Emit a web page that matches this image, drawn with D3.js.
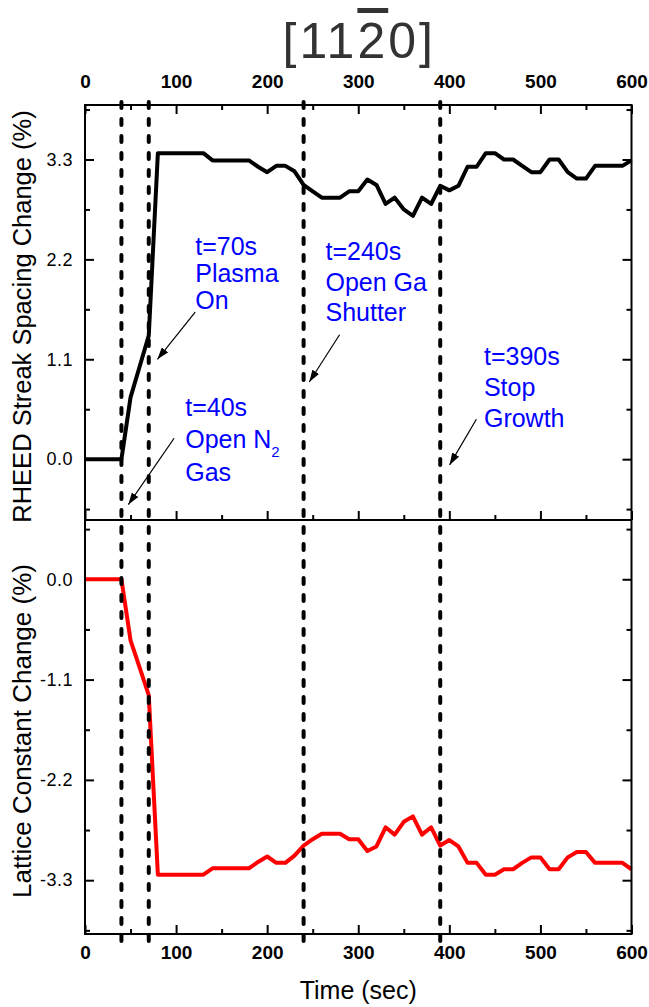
<!DOCTYPE html>
<html>
<head>
<meta charset="utf-8">
<script src="https://cdn.jsdelivr.net/npm/d3@7"></script>
<style>
  body { margin: 0; background: #fff; }
  svg { display: block; font-family: "Liberation Sans", Arial, sans-serif; }
</style>
</head>
<body>
<svg id="chart" width="649" height="1007"></svg>
<script>
// Sampling times (s)
const seconds = [0, 10, 20, 30, 40, 50, 60, 70, 80, 90, 100, 110, 120, 130, 140, 150, 160, 170, 180, 190,
  200, 210, 220, 230, 240, 250, 260, 270, 280, 290, 300, 310, 320, 330, 340, 350, 360, 370, 380, 390,
  400, 410, 420, 430, 440, 450, 460, 470, 480, 490, 500, 510, 520, 530, 540, 550, 560, 570, 580, 590, 600];

// RHEED streak spacing change (%)
const rheedSpacing = [0, 0, 0, 0, 0, 0.68, 1.02, 1.36, 3.37, 3.37, 3.37, 3.37, 3.37, 3.37, 3.29, 3.29, 3.29, 3.29, 3.29, 3.22,
  3.16, 3.23, 3.23, 3.17, 3.02, 2.95, 2.88, 2.88, 2.88, 2.95, 2.95, 3.08, 3.02, 2.81, 2.88, 2.75, 2.68, 2.88, 2.81, 3.01,
  2.96, 3.01, 3.22, 3.22, 3.37, 3.37, 3.30, 3.30, 3.23, 3.16, 3.16, 3.30, 3.30, 3.16, 3.09, 3.09, 3.23, 3.23, 3.23, 3.23, 3.29];

// Lattice constant change (%)
const latticeChange = [0, 0, 0, 0, 0, -0.67, -0.97, -1.27, -3.24, -3.24, -3.24, -3.24, -3.24, -3.24, -3.17, -3.17, -3.17, -3.17, -3.17, -3.10,
  -3.04, -3.11, -3.11, -3.03, -2.92, -2.85, -2.79, -2.79, -2.79, -2.85, -2.85, -2.98, -2.93, -2.72, -2.80, -2.66, -2.60, -2.80, -2.72, -2.92,
  -2.86, -2.93, -3.11, -3.11, -3.24, -3.24, -3.18, -3.18, -3.11, -3.05, -3.05, -3.18, -3.18, -3.05, -2.99, -2.99, -3.11, -3.11, -3.11, -3.11, -3.18];

// Process events (s)
const eventTimes = [40, 70, 240, 390];
const eventNotes = [
  ["t=40s", "Open N", "Gas"],
  ["t=70s", "Plasma", "On"],
  ["t=240s", "Open Ga", "Shutter"],
  ["t=390s", "Stop", "Growth"]
];

// Tick values
const timeTicks = [0, 100, 200, 300, 400, 500, 600];
const timeMinorTicks = [50, 150, 250, 350, 450, 550];
const rheedTicks = [0, 1.1, 2.2, 3.3];
const rheedMinorTicks = [-0.55, 0.55, 1.65, 2.75, 3.85];
const latticeTicks = [0, -1.1, -2.2, -3.3];
const latticeMinorTicks = [0.55, -0.55, -1.65, -2.75, -3.85];

const svg = d3.select("#chart");

const x = d3.scaleLinear().domain([0, 600]).range([85, 631.5]);
const yTop = d3.scaleLinear().domain([-0.67, 3.9]).range([520, 105]);
const yBot = d3.scaleLinear().domain([-3.89, 0.65]).range([934, 520]);

const fmt = v => (Math.abs(v) < 1e-9 ? 0 : v).toFixed(1);
const xL = x.range()[0], xR = x.range()[1];
const yT = yTop.range()[1], yMid = yTop.range()[0], yB = yBot.range()[0];

function styleAxis(g, labelStyle) {
  g.select(".domain").remove();
  g.selectAll(".tick line").attr("stroke", "#000").attr("stroke-width", 2);
  g.selectAll(".tick text").attr("fill", "#000").style("font-family", "'Liberation Sans', Arial, sans-serif");
  if (labelStyle) labelStyle(g.selectAll(".tick text"));
}

// Time axis on top of the upper panel (labelled)
svg.append("g").attr("transform", `translate(0,${yT})`)
  .call(d3.axisTop(x).tickValues(timeTicks).tickSizeInner(-9).tickSizeOuter(0).tickPadding(17).tickFormat(d3.format("d")))
  .call(g => styleAxis(g, t => t.style("font-size", "19px").style("font-weight", "bold")));
svg.append("g").attr("transform", `translate(0,${yT})`)
  .call(d3.axisTop(x).tickValues(timeMinorTicks).tickSizeInner(-5).tickSizeOuter(0).tickFormat(""))
  .call(g => styleAxis(g));

// Ticks along the shared boundary, pointing into the upper panel
svg.append("g").attr("transform", `translate(0,${yMid})`)
  .call(d3.axisBottom(x).tickValues(timeTicks).tickSizeInner(-9).tickSizeOuter(0).tickFormat(""))
  .call(g => styleAxis(g));
svg.append("g").attr("transform", `translate(0,${yMid})`)
  .call(d3.axisBottom(x).tickValues(timeMinorTicks).tickSizeInner(-5).tickSizeOuter(0).tickFormat(""))
  .call(g => styleAxis(g));

// Bottom time axis (labelled)
svg.append("g").attr("transform", `translate(0,${yB})`)
  .call(d3.axisBottom(x).tickValues(timeTicks).tickSizeInner(-9).tickSizeOuter(0).tickPadding(12).tickFormat(d3.format("d")))
  .call(g => styleAxis(g, t => t.style("font-size", "19px").style("font-weight", "bold")));
svg.append("g").attr("transform", `translate(0,${yB})`)
  .call(d3.axisBottom(x).tickValues(timeMinorTicks).tickSizeInner(-5).tickSizeOuter(0).tickFormat(""))
  .call(g => styleAxis(g));

// Left and right value axes for both panels
[[yTop, rheedTicks, rheedMinorTicks], [yBot, latticeTicks, latticeMinorTicks]].forEach(([y, major, minor]) => {
  svg.append("g").attr("transform", `translate(${xL},0)`)
    .call(d3.axisLeft(y).tickValues(major).tickSizeInner(-9).tickSizeOuter(0).tickPadding(12).tickFormat(fmt))
    .call(g => styleAxis(g, t => t.style("font-size", "18px").style("letter-spacing", "0.5px")));
  svg.append("g").attr("transform", `translate(${xL},0)`)
    .call(d3.axisLeft(y).tickValues(minor).tickSizeInner(-5).tickSizeOuter(0).tickFormat(""))
    .call(g => styleAxis(g));
  svg.append("g").attr("transform", `translate(${xR},0)`)
    .call(d3.axisRight(y).tickValues(major).tickSizeInner(-9).tickSizeOuter(0).tickFormat(""))
    .call(g => styleAxis(g));
  svg.append("g").attr("transform", `translate(${xR},0)`)
    .call(d3.axisRight(y).tickValues(minor).tickSizeInner(-5).tickSizeOuter(0).tickFormat(""))
    .call(g => styleAxis(g));
});

// Data lines
const rheedLine = d3.line().x((d, i) => x(seconds[i])).y(d => yTop(d));
const latticeLine = d3.line().x((d, i) => x(seconds[i])).y(d => yBot(d));

svg.append("path").datum(rheedSpacing)
  .attr("d", rheedLine).attr("fill", "none").attr("stroke", "#000")
  .attr("stroke-width", 4).attr("stroke-linejoin", "round");
svg.append("path").datum(latticeChange)
  .attr("d", latticeLine).attr("fill", "none").attr("stroke", "#ff0000")
  .attr("stroke-width", 4).attr("stroke-linejoin", "round");

// Frame
svg.append("rect").attr("x", xL).attr("y", yT).attr("width", xR - xL).attr("height", yB - yT)
  .attr("fill", "none").attr("stroke", "#000").attr("stroke-width", 2);
svg.append("line").attr("x1", xL).attr("x2", xR).attr("y1", yMid).attr("y2", yMid)
  .attr("stroke", "#000").attr("stroke-width", 2);

// Event markers
svg.selectAll("line.event").data(eventTimes).join("line").attr("class", "event")
  .attr("x1", d => x(d)).attr("x2", d => x(d))
  .attr("y1", yT - 3).attr("y2", yB + 8)
  .attr("stroke", "#000").attr("stroke-width", 4)
  .attr("stroke-dasharray", "6,11").attr("stroke-linecap", "round");

// Arrow heads
svg.append("defs").append("marker")
  .attr("id", "head").attr("viewBox", "0 0 12 8").attr("refX", 12).attr("refY", 4)
  .attr("markerWidth", 12).attr("markerHeight", 8).attr("markerUnits", "userSpaceOnUse")
  .attr("orient", "auto")
  .append("path").attr("d", "M0,0 L12,4 L0,8 Z").attr("fill", "#000");

// Annotation layout in (time, RHEED %) coordinates: text origin and arrow start/end
const noteLayout = [
  { tx: 110, tv: 0.47, gaps: [32, 33], a: [97.8, 0.23, 47.6, -0.50] },
  { tx: 121, tv: 2.25, gaps: [27, 27], a: [121, 1.62, 79.5, 1.10] },
  { tx: 264, tv: 2.19, gaps: [31, 30], a: [279.5, 1.37, 246.2, 0.85] },
  { tx: 438, tv: 1.04, gaps: [31, 31], a: [429.7, 0.44, 400.3, -0.063] }
];

eventNotes.forEach((lines, k) => {
  const L = noteLayout[k];
  const t = svg.append("text").attr("x", x(L.tx)).attr("y", yTop(L.tv))
    .attr("fill", "#0000ff").style("font-size", "25px");
  let yy = yTop(L.tv);
  lines.forEach((s, j) => {
    if (j > 0) yy += L.gaps[j - 1];
    t.append("tspan").attr("x", x(L.tx)).attr("y", yy).text(s);
    if (k === 0 && j === 1) {
      t.append("tspan").attr("dy", 9).style("font-size", "15px").text("2");
    }
  });
  svg.append("line")
    .attr("x1", x(L.a[0])).attr("y1", yTop(L.a[1]))
    .attr("x2", x(L.a[2])).attr("y2", yTop(L.a[3]))
    .attr("stroke", "#000").attr("stroke-width", 1.2)
    .attr("marker-end", "url(#head)");
});

// Axis titles
svg.append("text").attr("transform", `translate(31,${(yT + yMid) / 2 + 4}) rotate(-90)`)
  .attr("text-anchor", "middle").style("font-size", "25.5px").attr("fill", "#000")
  .text("RHEED Streak Spacing Change (%)");
svg.append("text").attr("transform", `translate(31,${(yMid + yB) / 2 + 4}) rotate(-90)`)
  .attr("text-anchor", "middle").style("font-size", "26px").attr("fill", "#000")
  .text("Lattice Constant Change (%)");
svg.append("text").attr("x", (xL + xR) / 2).attr("y", 999)
  .attr("text-anchor", "middle").style("font-size", "25px").attr("fill", "#000")
  .text("Time (sec)");

// Zone-axis title with barred index
const title = svg.append("text").attr("x", (xL + xR) / 2 + 1).attr("y", 58)
  .attr("text-anchor", "middle").style("font-size", "50px").style("letter-spacing", "3px").attr("fill", "#333");
title.append("tspan").text("[11");
title.append("tspan").style("text-decoration", "overline").text("2");
title.append("tspan").text("0]");
</script>
</body>
</html>
